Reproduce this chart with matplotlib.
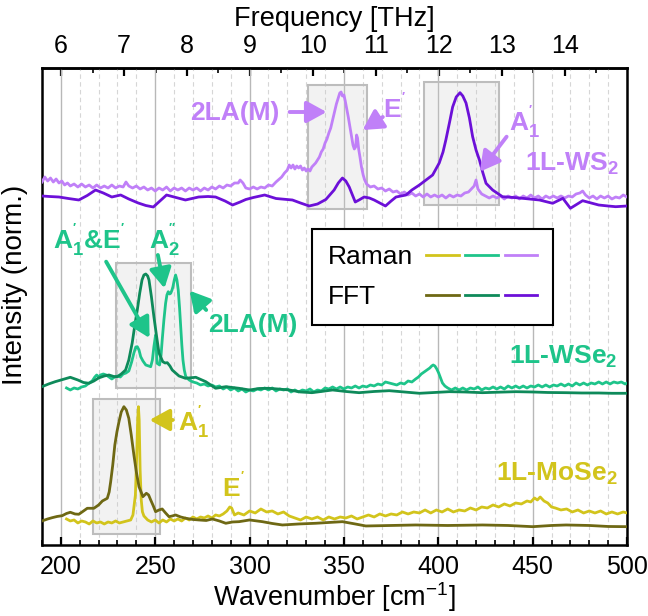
import matplotlib
matplotlib.use("Agg")
import matplotlib.pyplot as plt
from matplotlib.ticker import MultipleLocator
from matplotlib.patches import Rectangle
from matplotlib.legend_handler import HandlerTuple

plt.rcParams['font.family'] = ['Liberation Sans', 'DejaVu Sans']
plt.rcParams['mathtext.fontset'] = 'custom'
plt.rcParams['mathtext.rm'] = 'Liberation Sans'
plt.rcParams['mathtext.bf'] = 'Liberation Sans:bold'
plt.rcParams['mathtext.it'] = 'Liberation Sans:italic'

# ------------- data: (wavenumber cm^-1, stacked normalized intensity) -------------
ws2_raman = [
    (190, 3.63), (191.5, 3.68), (193, 3.64), (194.5, 3.67), (196, 3.63), (197.5, 3.66), (199, 3.62),
    (200.5, 3.64), (202, 3.60), (203.5, 3.62), (205, 3.59), (207, 3.61), (209, 3.58), (211, 3.61),
    (213, 3.58), (215, 3.60), (217, 3.57), (219, 3.60), (221, 3.57), (223, 3.59), (225, 3.57),
    (227, 3.60), (229, 3.57), (231, 3.59), (233, 3.58), (234.5, 3.63), (236, 3.59), (238, 3.57),
    (240, 3.59), (242, 3.56), (244, 3.58), (246, 3.55), (248, 3.57), (250, 3.54), (252, 3.57),
    (254, 3.55), (256, 3.58), (258, 3.54), (260, 3.57), (262, 3.55), (264, 3.57), (266, 3.54),
    (268, 3.57), (270, 3.55), (272, 3.57), (274, 3.54), (276, 3.57), (278, 3.55), (280, 3.58),
    (282, 3.56), (284, 3.59), (286, 3.57), (288, 3.60), (290, 3.59), (292, 3.62), (294, 3.62),
    (295, 3.65), (296.5, 3.62), (298, 3.57), (300, 3.56), (302, 3.58), (304, 3.56), (306, 3.58),
    (308, 3.57), (310, 3.60), (312, 3.59), (314, 3.63), (317, 3.68), (318.5, 3.72), (320, 3.75),
    (321, 3.80), (322, 3.77), (323, 3.80), (324, 3.76), (325, 3.79), (326, 3.77), (327, 3.79),
    (328, 3.75), (329, 3.77), (330, 3.74), (331, 3.76), (332, 3.74), (333, 3.78), (334, 3.80),
    (335, 3.82), (336, 3.85), (337, 3.88), (338, 3.93), (339, 3.96), (340, 4.02), (341, 4.06),
    (342, 4.12), (343, 4.17), (344, 4.25), (345, 4.33), (346, 4.41), (347, 4.47), (347.8, 4.52),
    (348.5, 4.53), (349.2, 4.49), (350, 4.50), (350.7, 4.44), (351.5, 4.36), (352.3, 4.28),
    (353, 4.20), (354, 4.08), (354.8, 4.00), (355.5, 3.96), (356.2, 3.98), (356.7, 4.10),
    (357.2, 4.07), (357.8, 3.96), (358.5, 3.88), (359.3, 3.78), (360.2, 3.70), (361, 3.65),
    (362, 3.61), (364, 3.58), (366, 3.59), (368, 3.56), (370, 3.57), (372, 3.54), (374, 3.56),
    (376, 3.53), (378, 3.54), (380, 3.51), (382, 3.53), (384, 3.50), (386, 3.52), (388, 3.49),
    (390, 3.51), (392, 3.48), (394, 3.51), (396, 3.48), (398, 3.50), (400, 3.48), (402, 3.50),
    (404, 3.47), (406, 3.50), (408, 3.48), (410, 3.50), (412, 3.49), (414, 3.52), (416, 3.53),
    (418, 3.57), (419, 3.59), (420, 3.65), (421, 3.56), (423, 3.51), (425, 3.49), (427, 3.47),
    (429, 3.49), (431, 3.47), (433, 3.49), (435, 3.46), (437, 3.49), (439, 3.47), (441, 3.49),
    (443, 3.46), (445, 3.49), (447, 3.47), (449, 3.50), (451, 3.47), (453, 3.49), (455, 3.46),
    (457, 3.49), (459, 3.47), (461, 3.49), (463, 3.47), (465, 3.49), (467, 3.47), (469, 3.49),
    (471, 3.48), (473, 3.51), (475, 3.52), (476.5, 3.54), (478, 3.50), (480, 3.47), (482, 3.49),
    (484, 3.46), (486, 3.49), (488, 3.47), (490, 3.49), (492, 3.46), (494, 3.48), (496, 3.47),
    (498, 3.50), (500, 3.48)]

ws2_fft = [
    (190, 3.49), (194, 3.485), (199, 3.48), (204, 3.465), (209.5, 3.45), (214, 3.495), (218.4, 3.55),
    (222.5, 3.52), (227, 3.48), (231.7, 3.50), (236, 3.46), (241, 3.42), (245, 3.395), (249, 3.38),
    (252.5, 3.44), (256, 3.50), (261, 3.475), (266, 3.45), (273, 3.48), (278, 3.485), (282, 3.48),
    (287, 3.44), (291, 3.40), (295, 3.43), (298, 3.455), (302, 3.475), (308, 3.50), (314, 3.465),
    (322.7, 3.45), (327, 3.42), (331.6, 3.39), (336, 3.41), (340.4, 3.455), (344.8, 3.55),
    (347, 3.62), (349.2, 3.67), (351, 3.64), (352.8, 3.58), (354.5, 3.50), (356, 3.43), (358, 3.45),
    (360.7, 3.48), (363.5, 3.47), (366, 3.45), (369, 3.42), (372, 3.39), (375, 3.44), (377.6, 3.48),
    (382.9, 3.50), (386, 3.55), (390, 3.60), (393.5, 3.65), (397, 3.70), (400.5, 3.82), (402.5, 3.93),
    (404, 4.05), (406, 4.23), (407.6, 4.38), (409.5, 4.48), (411.5, 4.523), (413, 4.49), (414.7, 4.42),
    (416.5, 4.27), (418.2, 4.083), (420, 3.95), (421.8, 3.85), (423.5, 3.73), (425.3, 3.617),
    (428.8, 3.55), (434, 3.483), (440, 3.475), (444.6, 3.467), (453.6, 3.45), (460.6, 3.417),
    (466, 3.467), (470, 3.367), (476.5, 3.443), (481, 3.42), (485, 3.40), (490, 3.39), (494, 3.383),
    (500, 3.39)]

wse2_raman = [
    (203, 1.57), (205, 1.55), (207, 1.57), (209, 1.56), (211, 1.58), (213, 1.59), (215, 1.62),
    (216.6, 1.64), (218, 1.68), (219, 1.70), (220, 1.68), (221, 1.70), (222.5, 1.71), (224, 1.70),
    (225.5, 1.68), (227, 1.66), (228.5, 1.68), (230, 1.69), (231.5, 1.68), (233, 1.71), (234.5, 1.72),
    (236, 1.74), (237.5, 1.83), (238.7, 1.92), (239.7, 1.98), (240.5, 1.983), (241.4, 1.95),
    (242.3, 1.883), (243.5, 1.84), (245, 1.80), (246.5, 1.79), (247.6, 1.783), (248.5, 1.85),
    (249.3, 1.983), (250.2, 2.10), (251, 1.817), (252.3, 1.80), (253.1, 1.90), (253.7, 2.05),
    (254.6, 2.25), (255.5, 2.417), (256.2, 2.50), (256.9, 2.533), (257.6, 2.51), (258.2, 2.517),
    (258.9, 2.55), (259.4, 2.583), (260.1, 2.65), (260.8, 2.70), (261.5, 2.65), (262.2, 2.55),
    (262.9, 2.37), (263.5, 2.183), (264.1, 2.00), (264.7, 1.85), (265.4, 1.75), (266.2, 1.683),
    (268, 1.65), (270, 1.63), (272, 1.62), (274, 1.60), (276, 1.61), (278, 1.59), (280, 1.60),
    (282, 1.58), (284, 1.59), (286, 1.56), (288, 1.58), (290, 1.55), (292, 1.57), (294, 1.54),
    (296, 1.56), (298, 1.53), (300, 1.55), (302, 1.54), (304, 1.56), (306, 1.55), (308, 1.57),
    (310, 1.55), (312, 1.57), (314, 1.54), (316, 1.56), (318, 1.55), (320, 1.56), (322, 1.53),
    (324, 1.55), (326, 1.53), (328, 1.55), (330, 1.54), (332, 1.56), (334, 1.53), (336, 1.55),
    (338, 1.54), (340, 1.57), (342, 1.56), (344, 1.58), (346, 1.56), (348, 1.58), (350, 1.56),
    (352, 1.58), (354, 1.57), (356, 1.59), (358, 1.57), (360, 1.59), (362, 1.58), (364, 1.60),
    (366, 1.59), (368, 1.61), (370, 1.60), (372, 1.63), (374, 1.62), (376, 1.61), (378, 1.60),
    (380, 1.62), (382, 1.61), (384, 1.64), (386, 1.63), (388, 1.66), (389.5, 1.68), (391, 1.71),
    (392.5, 1.73), (394, 1.75), (395.5, 1.77), (396.5, 1.79), (397.3, 1.80), (398.2, 1.79),
    (399.2, 1.76), (400.2, 1.72), (401.2, 1.67), (402.2, 1.62), (403.5, 1.59), (405, 1.57),
    (407, 1.55), (409, 1.57), (411, 1.55), (413, 1.57), (415, 1.55), (417, 1.57), (419, 1.56),
    (421, 1.58), (423, 1.55), (425, 1.57), (427, 1.56), (429, 1.58), (431, 1.56), (433, 1.58),
    (435, 1.56), (437, 1.59), (439, 1.57), (441, 1.59), (443, 1.57), (445, 1.59), (447, 1.57),
    (449, 1.59), (451, 1.58), (453, 1.60), (455, 1.58), (457, 1.60), (459, 1.58), (461, 1.60),
    (463, 1.59), (465, 1.61), (467, 1.59), (469, 1.61), (471, 1.59), (473, 1.62), (475, 1.60),
    (477, 1.62), (479, 1.60), (481, 1.62), (483, 1.61), (485, 1.63), (487, 1.61), (489, 1.63),
    (491, 1.61), (493, 1.63), (495, 1.62), (497, 1.63), (499, 1.61), (500, 1.62)]

wse2_fft = [
    (190, 1.583), (193.5, 1.61), (197, 1.633), (201, 1.655), (205, 1.677), (209, 1.65), (212, 1.625),
    (214.9, 1.617), (217.5, 1.64), (220, 1.67), (223, 1.69), (225.5, 1.70), (228, 1.685),
    (229.9, 1.683), (232, 1.71), (234.3, 1.75), (236, 1.85), (237.8, 2.02), (239.2, 2.20),
    (240.5, 2.35), (241.8, 2.52), (243, 2.65), (244, 2.70), (245, 2.71), (246, 2.69), (246.7, 2.65),
    (248, 2.48), (249.3, 2.283), (250.7, 2.09), (252, 1.92), (254, 1.833), (255.2, 1.82),
    (256.4, 1.823), (257.8, 1.79), (259, 1.75), (262.6, 1.69), (266, 1.667), (271.5, 1.677),
    (276.8, 1.633), (282, 1.567), (287.4, 1.583), (294.4, 1.567), (300, 1.55), (305, 1.565),
    (310, 1.567), (315, 1.56), (321, 1.55), (327, 1.53), (333, 1.523), (338, 1.535), (344, 1.55),
    (351, 1.535), (358, 1.523), (366, 1.535), (374, 1.543), (382, 1.53), (390, 1.517), (398, 1.525),
    (405.8, 1.533), (414, 1.53), (423.4, 1.523), (432, 1.528), (441, 1.533), (450, 1.53),
    (458, 1.525), (467.7, 1.523), (476, 1.52), (485, 1.52), (492, 1.517), (500, 1.517)]

mose2_raman = [
    (203, 0.26), (205, 0.24), (207, 0.25), (209, 0.22), (211, 0.24), (213, 0.23), (215, 0.21),
    (217, 0.24), (219, 0.22), (221, 0.23), (223, 0.21), (225, 0.23), (227, 0.22), (229, 0.24),
    (231, 0.22), (233, 0.23), (235, 0.24), (237, 0.25), (238.2, 0.30), (239.5, 0.50), (240.2, 0.90),
    (240.7, 1.25), (241.1, 1.383), (241.5, 1.25), (242, 0.75), (242.6, 0.45), (243.2, 0.333),
    (244, 0.29), (246, 0.25), (248, 0.23), (250, 0.25), (252, 0.22), (254, 0.25), (256, 0.23),
    (258, 0.26), (260, 0.24), (262, 0.26), (264, 0.24), (266, 0.27), (268, 0.25), (270, 0.28),
    (272, 0.26), (274, 0.28), (276, 0.27), (278, 0.29), (280, 0.27), (282, 0.30), (284, 0.29),
    (286, 0.31), (288, 0.34), (289.5, 0.38), (290.5, 0.37), (292, 0.30), (294, 0.32), (297, 0.30),
    (300, 0.34), (303, 0.32), (306, 0.36), (309, 0.33), (312, 0.34), (315, 0.31), (318, 0.33),
    (321, 0.29), (324, 0.27), (327, 0.25), (330, 0.28), (333, 0.26), (336, 0.28), (339, 0.25),
    (342, 0.28), (345, 0.26), (348, 0.28), (351, 0.27), (354, 0.29), (357, 0.26), (360, 0.28),
    (363, 0.30), (366, 0.28), (369, 0.31), (372, 0.29), (375, 0.31), (378, 0.30), (381, 0.33),
    (384, 0.31), (387, 0.33), (390, 0.32), (393, 0.35), (396, 0.32), (399, 0.35), (402, 0.33),
    (405, 0.36), (408, 0.33), (411, 0.35), (414, 0.34), (417, 0.37), (420, 0.35), (423, 0.38),
    (426, 0.37), (429, 0.40), (432, 0.38), (435, 0.41), (438, 0.39), (441, 0.42), (444, 0.41),
    (447, 0.44), (449, 0.43), (451, 0.47), (452.5, 0.45), (454, 0.48), (456, 0.44), (458, 0.42),
    (460, 0.38), (462, 0.37), (465, 0.35), (468, 0.36), (471, 0.33), (474, 0.35), (477, 0.32),
    (480, 0.34), (483, 0.32), (486, 0.34), (489, 0.31), (492, 0.33), (495, 0.31), (498, 0.33),
    (500, 0.32)]

mose2_fft = [
    (190, 0.24), (193, 0.26), (195.4, 0.273), (198, 0.285), (200.7, 0.293), (203, 0.315), (205, 0.327),
    (207.5, 0.31), (209.5, 0.307), (212, 0.34), (214, 0.367), (217.5, 0.367), (220, 0.40), (222, 0.44),
    (224.6, 0.467), (225.6, 0.53), (226.4, 0.633), (227.5, 0.80), (228.6, 1.00), (229.7, 1.13),
    (230.8, 1.233), (232, 1.33), (233.4, 1.383), (234.7, 1.35), (236, 1.267), (237.3, 1.10),
    (238.7, 0.90), (240, 0.73), (241.4, 0.583), (243.5, 0.483), (245.3, 0.517), (246.5, 0.50),
    (247.6, 0.45), (249, 0.39), (250.2, 0.333), (252, 0.35), (253.7, 0.36), (255.5, 0.32),
    (257.3, 0.283), (259, 0.29), (260.8, 0.30), (263.5, 0.28), (266.2, 0.267), (270, 0.255),
    (273.2, 0.25), (277, 0.245), (280.3, 0.26), (284, 0.24), (287.4, 0.217), (291, 0.23),
    (294.4, 0.233), (300, 0.25), (306.8, 0.233), (312, 0.215), (317.4, 0.20), (326, 0.21),
    (335, 0.217), (342, 0.225), (349.2, 0.233), (356, 0.21), (361.6, 0.19), (375, 0.195), (388, 0.20),
    (405, 0.195), (423.4, 0.20), (437, 0.195), (450, 0.183), (460, 0.195), (467.7, 0.20),
    (480, 0.195), (490, 0.185), (500, 0.183)]

# highlighted regions: (x0, x1, y0, y1)
boxes = [(331.2, 362.0, 3.36, 4.60), (392.6, 432.4, 3.40, 4.63),
         (229.0, 268.8, 1.567, 2.823), (217.2, 252.5, 0.107, 1.46)]

legend_labels = ['Raman', 'FFT']
thz_ticks = list(range(6, 15))

c_ws2_r, c_ws2_f = '#c080f8', '#6c10d8'
c_wse2_r, c_wse2_f = '#1ec48a', '#0e8a5a'
c_mose2_r, c_mose2_f = '#d2c41c', '#6e6814'

# ---------------- figure -------------
fig = plt.figure(figsize=(6.48, 6.16), dpi=100)
ax = fig.add_axes([0.0648, 0.1153, 0.9676 - 0.0648, 0.8896 - 0.1153])

ax.set_xlim(190, 500)
ax.set_ylim(0, 4.77)

ax.xaxis.set_major_locator(MultipleLocator(50))
ax.xaxis.set_minor_locator(MultipleLocator(10))
ax.grid(which='major', axis='x', color='#b8b8b8', lw=1.0, ls='-', zorder=0)
ax.grid(which='minor', axis='x', color='#d6d6d6', lw=0.8, ls=(0, (4, 3)), zorder=0)
ax.set_axisbelow(True)

for (x0, x1, y0, y1) in boxes:
    ax.add_patch(Rectangle((x0, y0), x1 - x0, y1 - y0, facecolor='#c8c8c8', alpha=0.22,
                           edgecolor='none', zorder=1))
    ax.add_patch(Rectangle((x0, y0), x1 - x0, y1 - y0, facecolor='none',
                           edgecolor='#bdbdbd', lw=1.5, zorder=1))

def xy(series):
    return [p[0] for p in series], [p[1] for p in series]

lw_r, lw_f = 2.0, 2.0
l_mr, = ax.plot(*xy(mose2_raman), color=c_mose2_r, lw=lw_r, zorder=3)
l_mf, = ax.plot(*xy(mose2_fft), color=c_mose2_f, lw=lw_f, zorder=3)
l_er, = ax.plot(*xy(wse2_raman), color=c_wse2_r, lw=lw_r, zorder=3)
l_ef, = ax.plot(*xy(wse2_fft), color=c_wse2_f, lw=lw_f, zorder=3)
l_sr, = ax.plot(*xy(ws2_raman), color=c_ws2_r, lw=lw_r, zorder=3)
l_sf, = ax.plot(*xy(ws2_fft), color=c_ws2_f, lw=lw_f, zorder=3)

# axes styling
for s in ax.spines.values():
    s.set_linewidth(1.8)
ax.set_yticks([])
ax.tick_params(axis='x', which='major', direction='in', length=6, width=1.6, labelsize=18, pad=7,
               top=False)
ax.tick_params(axis='x', which='minor', direction='in', length=3.5, width=1.2, top=False)
ax.set_xlabel('Wavenumber [cm$^{-1}$]', fontsize=19.5, labelpad=1)
ax.set_ylabel('Intensity (norm.)', fontsize=20)
ax.yaxis.set_label_coords(-0.024, 0.545)

sec = ax.secondary_xaxis('top', functions=(lambda w: w * 0.0299792458, lambda f: f / 0.0299792458))
sec.set_xticks(thz_ticks)
sec.xaxis.set_minor_locator(MultipleLocator(0.5))
sec.tick_params(axis='x', which='major', direction='in', length=6, width=1.6, labelsize=18, pad=7)
sec.tick_params(axis='x', which='minor', direction='in', length=3.5, width=1.2)
sec.spines['top'].set_linewidth(1.8)
sec.set_xlabel('Frequency [THz]', fontsize=19.5, labelpad=6)

# annotations
fs = 19
def label(x, y, s, c, **kw):
    ax.text(x, y, s, color=c, fontsize=fs, fontweight='bold', ha='center', va='center', zorder=5, **kw)

def arrow(x0, y0, x1, y1, c):
    ax.annotate('', xy=(x1, y1), xytext=(x0, y0),
                arrowprops=dict(arrowstyle='-|>,head_length=0.6,head_width=0.33', lw=2.8, color=c,
                                shrinkA=0, shrinkB=0, mutation_scale=20), zorder=5)

label(292.0, 4.32, '2LA(M)', c_ws2_r)
arrow(321.2, 4.33, 340.8, 4.33, c_ws2_r)
label(376.5, 4.37, r"E$\mathbf{^{'}}$", c_ws2_r)
arrow(370.6, 4.28, 359.9, 4.15, c_ws2_r)
label(445.5, 4.23, r"$\mathbf{A_1^{'}}$", c_ws2_r)
arrow(436.2, 4.083, 422.0, 3.733, c_ws2_r)
label(470.8, 3.81, r"1L-WS$\mathbf{_2}$", c_ws2_r)

label(215.0, 3.05, r"$\mathbf{A_1^{'}}$&E$\mathbf{^{'}}$", c_wse2_r)
arrow(224.0, 2.833, 247.0, 2.07, c_wse2_r)
label(254.6, 3.05, r"$\mathbf{A_2^{''}}$", c_wse2_r)
arrow(251.4, 2.90, 254.9, 2.567, c_wse2_r)
label(301.6, 2.20, '2LA(M)', c_wse2_r)
arrow(277.0, 2.35, 268.2, 2.543, c_wse2_r)
label(466.0, 1.88, r"1L-WSe$\mathbf{_2}$", c_wse2_r)

label(270.5, 1.23, r"$\mathbf{A_1^{'}}$", c_mose2_r)
arrow(259.3, 1.25, 247.0, 1.25, c_mose2_r)
label(291.5, 0.58, r"E$\mathbf{^{'}}$", c_mose2_r)
label(462.9, 0.71, r"1L-MoSe$\mathbf{_2}$", c_mose2_r)

leg = ax.legend([(l_mr, l_er, l_sr), (l_mf, l_ef, l_sf)], legend_labels,
                handler_map={tuple: HandlerTuple(ndivide=None, pad=0.25)},
                loc='upper left', bbox_to_anchor=(0.4615, 0.662), markerfirst=False,
                handlelength=4.2, fontsize=19, frameon=True, fancybox=False, framealpha=1,
                edgecolor='black', borderpad=0.6, labelspacing=0.6, handletextpad=0.5,
                borderaxespad=0)
leg.get_frame().set_linewidth(1.5)
leg.set_zorder(6)

# left-align the label texts while keeping the line samples in one column
fig.canvas.draw()
renderer = fig.canvas.get_renderer()
items = [it for col in leg._legend_handle_box.get_children() for it in col.get_children()]
widths = [t.get_window_extent(renderer).width for t in leg.texts]
wmax = max(widths)
for it, w in zip(items, widths):
    it.sep = it.sep + (wmax - w) * 72.0 / fig.dpi

fig.savefig('out.png', dpi=100)
